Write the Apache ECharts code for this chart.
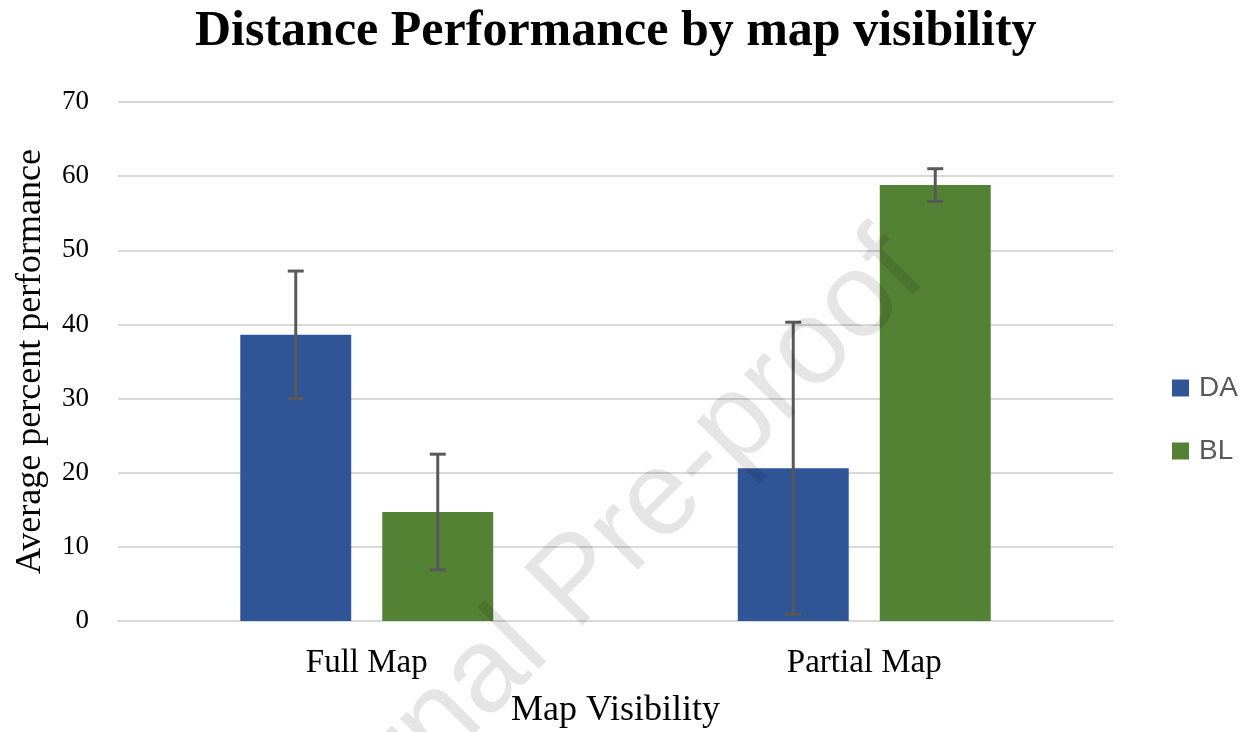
<!DOCTYPE html>
<html>
<head>
<meta charset="utf-8">
<script src="https://cdn.jsdelivr.net/npm/echarts@6/dist/echarts.min.js"></script>
<style>html,body{margin:0;padding:0;background:#fff;}#c{width:1248px;height:732px;}</style>
</head>
<body>
<div id="c"></div>
<script>
var categories = ['Full Map', 'Partial Map'];
var seriesNames = ['DA', 'BL'];
var daValues = [38.6, 20.6];
var daErrors = [8.6, 19.7];
var blValues = [14.7, 58.8];
var blErrors = [7.8, 2.2];
var yTicks = [0, 10, 20, 30, 40, 50, 60, 70];

var colors = ['#2F5597', '#548235'];
var BAR_FRAC = 0.223, GAP_FRAC = 0.28;

function errorSeries(values, errors, idx) {
  var data = values.map(function (v, i) { return [i, v - errors[i], v + errors[i]]; });
  return {
    type: 'custom',
    name: seriesNames[idx] + ' err',
    z: 10,
    silent: true,
    renderItem: function (params, api) {
      var ci = api.value(0);
      var band = api.size([1, 0])[0];
      var bw = band * BAR_FRAC;
      var off = (bw + bw * GAP_FRAC) / 2 * (idx === 0 ? -1 : 1);
      var lo = api.coord([ci, api.value(1)]);
      var hi = api.coord([ci, api.value(2)]);
      var x = lo[0] + off;
      var cap = 8;
      var st = { stroke: '#595959', lineWidth: 3 };
      return {
        type: 'group',
        children: [
          { type: 'line', shape: { x1: x, y1: hi[1], x2: x, y2: lo[1] }, style: st },
          { type: 'line', shape: { x1: x - cap, y1: hi[1], x2: x + cap, y2: hi[1] }, style: st },
          { type: 'line', shape: { x1: x - cap, y1: lo[1], x2: x + cap, y2: lo[1] }, style: st }
        ]
      };
    },
    encode: { x: 0, y: [1, 2] },
    data: data
  };
}

var chart = echarts.init(document.getElementById('c'));
chart.setOption({
  animation: false,
  backgroundColor: '#fff',
  title: {
    text: 'Distance Performance by map visibility',
    left: 190,
    top: 2,
    textStyle: { fontFamily: 'Liberation Serif', fontWeight: 'bold', fontSize: 50, color: '#000' }
  },
  legend: {
    orient: 'vertical',
    left: 1172,
    top: 374,
    padding: 0,
    itemGap: 35,
    itemWidth: 17,
    itemHeight: 17,
    icon: 'rect',
    data: seriesNames,
    textStyle: { fontFamily: 'Liberation Sans', fontSize: 28, color: '#595959', padding: [0, 0, 0, 5] }
  },
  grid: { left: 118, right: 135, top: 102, bottom: 111, containLabel: false, outerBoundsMode: 'none' },
  xAxis: {
    type: 'category',
    data: categories,
    name: 'Map Visibility',
    nameLocation: 'middle',
    nameGap: 72,
    nameTextStyle: { fontFamily: 'Liberation Serif', fontSize: 36, color: '#000' },
    axisLine: { lineStyle: { color: '#d9d9d9', width: 2 } },
    axisTick: { show: false },
    axisLabel: { fontFamily: 'Liberation Serif', fontSize: 33, color: '#000', margin: 26 }
  },
  yAxis: {
    type: 'value',
    min: yTicks[0],
    max: yTicks[yTicks.length - 1],
    interval: 10,
    name: 'Average percent performance',
    nameLocation: 'middle',
    nameGap: 69,
    nameTextStyle: { fontFamily: 'Liberation Serif', fontSize: 36, color: '#000' },
    axisLine: { show: false },
    axisTick: { show: false },
    splitLine: { lineStyle: { color: '#d9d9d9', width: 2 } },
    axisLabel: { fontFamily: 'Liberation Serif', fontSize: 27, color: '#000', margin: 29 }
  },
  series: [
    { type: 'bar', name: 'DA', data: daValues, itemStyle: { color: colors[0] }, barWidth: (BAR_FRAC * 100) + '%', barGap: (GAP_FRAC * 100) + '%' },
    { type: 'bar', name: 'BL', data: blValues, itemStyle: { color: colors[1] }, barWidth: (BAR_FRAC * 100) + '%', barGap: (GAP_FRAC * 100) + '%' },
    errorSeries(daValues, daErrors, 0),
    errorSeries(blValues, blErrors, 1)
  ],
  graphic: [{
    type: 'text',
    x: 578, y: 583,
    rotation: 45 * Math.PI / 180,
    z: 100,
    silent: true,
    style: {
      text: 'Journal Pre-proof',
      fontFamily: 'Liberation Sans',
      fontSize: 120,
      fill: 'rgba(0,0,0,0.1)',
      align: 'center',
      verticalAlign: 'middle'
    }
  }]
});
</script>
</body>
</html>
